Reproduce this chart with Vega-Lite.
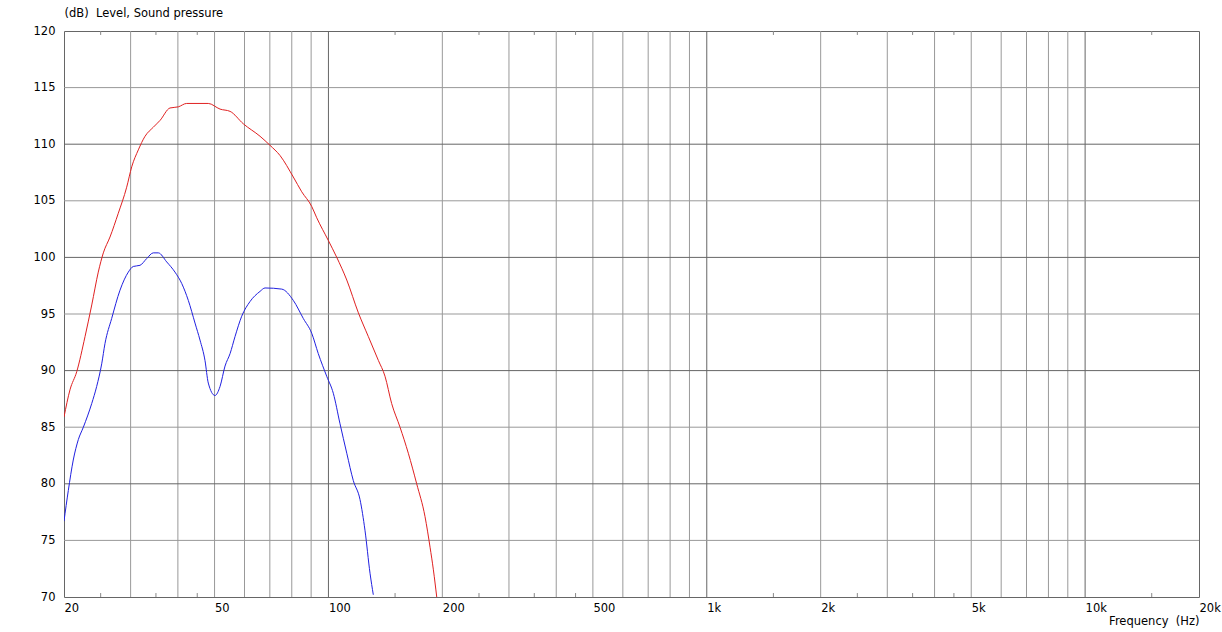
{
  "$schema": "https://vega.github.io/schema/vega-lite/v6.json",
  "width": 1135,
  "height": 566,
  "autosize": "none",
  "padding": {"left": 64, "top": 31, "right": 23, "bottom": 35},
  "background": "#ffffff",
  "config": {
    "view": {"stroke": "#666666", "strokeWidth": 1},
    "font": "DejaVu Sans",
    "axis": {"labelFont": "DejaVu Sans", "labelFontSize": 11.5, "labelColor": "#000000", "titleFont": "DejaVu Sans", "titleFontSize": 11.5, "titleFontWeight": "normal", "titleColor": "#000000"}
  },
  "datasets": {
    "vminor": [{"f":30},{"f":40},{"f":60},{"f":70},{"f":80},{"f":90},{"f":50},{"f":200},{"f":300},{"f":400},{"f":500},{"f":600},{"f":700},{"f":800},{"f":900},{"f":2000},{"f":3000},{"f":4000},{"f":5000},{"f":6000},{"f":7000},{"f":8000},{"f":9000}],
    "vmajor": [{"f":100},{"f":1000},{"f":10000}],
    "hminor": [{"db":75},{"db":85},{"db":95},{"db":105},{"db":115}],
    "hmajor": [{"db":80},{"db":90},{"db":100},{"db":110}],
    "ticks": [{"f":25},{"f":35},{"f":45},{"f":150},{"f":250},{"f":350},{"f":450},{"f":1500},{"f":2500},{"f":3500},{"f":4500},{"f":15000}],
    "curves": [
      {"series":"A","f":20.0,"db":85.9},
      {"series":"A","f":20.74,"db":88.3},
      {"series":"A","f":21.61,"db":89.9},
      {"series":"A","f":22.73,"db":93.0},
      {"series":"A","f":23.68,"db":95.8},
      {"series":"A","f":24.64,"db":98.7},
      {"series":"A","f":25.41,"db":100.4},
      {"series":"A","f":26.46,"db":101.8},
      {"series":"A","f":27.83,"db":103.9},
      {"series":"A","f":29.29,"db":106.2},
      {"series":"A","f":30.2,"db":108.0},
      {"series":"A","f":31.44,"db":109.5},
      {"series":"A","f":32.75,"db":110.7},
      {"series":"A","f":34.44,"db":111.5},
      {"series":"A","f":35.88,"db":112.1},
      {"series":"A","f":38.12,"db":113.2},
      {"series":"A","f":40.1,"db":113.3},
      {"series":"A","f":42.2,"db":113.6},
      {"series":"A","f":48.13,"db":113.6},
      {"series":"A","f":51.7,"db":113.1},
      {"series":"A","f":54.95,"db":112.9},
      {"series":"A","f":59.57,"db":111.8},
      {"series":"A","f":65.95,"db":110.7},
      {"series":"A","f":70.08,"db":109.9},
      {"series":"A","f":74.48,"db":109.0},
      {"series":"A","f":80.75,"db":107.1},
      {"series":"A","f":84.98,"db":105.8},
      {"series":"A","f":90.32,"db":104.5},
      {"series":"A","f":93.12,"db":103.5},
      {"series":"A","f":99.92,"db":101.5},
      {"series":"A","f":105.2,"db":100.0},
      {"series":"A","f":111.8,"db":98.0},
      {"series":"A","f":120.0,"db":95.1},
      {"series":"A","f":127.5,"db":93.0},
      {"series":"A","f":135.5,"db":90.9},
      {"series":"A","f":141.1,"db":89.5},
      {"series":"A","f":146.9,"db":87.1},
      {"series":"A","f":154.6,"db":85.0},
      {"series":"A","f":162.6,"db":82.7},
      {"series":"A","f":171.1,"db":80.0},
      {"series":"A","f":180.0,"db":77.1},
      {"series":"A","f":185.6,"db":74.4},
      {"series":"A","f":189.4,"db":72.4},
      {"series":"A","f":193.3,"db":70.0},
      {"series":"B","f":20.0,"db":76.7},
      {"series":"B","f":20.53,"db":79.4},
      {"series":"B","f":21.16,"db":82.1},
      {"series":"B","f":21.82,"db":83.9},
      {"series":"B","f":22.5,"db":85.0},
      {"series":"B","f":23.68,"db":87.1},
      {"series":"B","f":24.4,"db":88.6},
      {"series":"B","f":25.16,"db":90.6},
      {"series":"B","f":25.67,"db":92.4},
      {"series":"B","f":26.73,"db":94.6},
      {"series":"B","f":28.12,"db":97.1},
      {"series":"B","f":29.58,"db":98.7},
      {"series":"B","f":30.49,"db":99.2},
      {"series":"B","f":31.76,"db":99.3},
      {"series":"B","f":33.09,"db":99.9},
      {"series":"B","f":34.44,"db":100.4},
      {"series":"B","f":35.51,"db":100.4},
      {"series":"B","f":37.37,"db":99.6},
      {"series":"B","f":39.3,"db":98.7},
      {"series":"B","f":40.94,"db":97.7},
      {"series":"B","f":42.62,"db":96.2},
      {"series":"B","f":44.39,"db":94.2},
      {"series":"B","f":45.76,"db":92.7},
      {"series":"B","f":47.17,"db":90.9},
      {"series":"B","f":48.13,"db":88.9},
      {"series":"B","f":50.13,"db":87.8},
      {"series":"B","f":51.7,"db":88.6},
      {"series":"B","f":53.29,"db":90.4},
      {"series":"B","f":54.95,"db":91.5},
      {"series":"B","f":56.63,"db":93.0},
      {"series":"B","f":58.98,"db":94.8},
      {"series":"B","f":62.04,"db":96.1},
      {"series":"B","f":65.95,"db":97.0},
      {"series":"B","f":67.99,"db":97.3},
      {"series":"B","f":75.24,"db":97.2},
      {"series":"B","f":80.75,"db":96.2},
      {"series":"B","f":85.83,"db":94.6},
      {"series":"B","f":90.32,"db":93.3},
      {"series":"B","f":94.0,"db":91.5},
      {"series":"B","f":98.95,"db":89.5},
      {"series":"B","f":103.0,"db":88.0},
      {"series":"B","f":107.3,"db":85.3},
      {"series":"B","f":111.8,"db":82.7},
      {"series":"B","f":116.3,"db":80.3},
      {"series":"B","f":121.2,"db":78.6},
      {"series":"B","f":124.9,"db":75.9},
      {"series":"B","f":128.8,"db":72.1},
      {"series":"B","f":131.4,"db":70.2}
    ]
  },
  "layer": [
    {
      "data": {"name": "curves"},
      "mark": {"type": "line", "strokeWidth": 1, "interpolate": "monotone", "clip": true, "opacity": 0},
      "encoding": {
        "x": {
          "field": "f", "type": "quantitative",
          "scale": {"type": "log", "domain": [20, 20000], "nice": false},
          "axis": {
            "values": [20, 50, 100, 200, 500, 1000, 2000, 5000, 10000, 20000],
            "labelExpr": "datum.value >= 1000 ? (datum.value / 1000) + 'k' : datum.value",
            "labelAlign": "left", "labelBaseline": "top", "labelPadding": 5,
            "labelFlush": false, "labelOverlap": false, "labelBound": false,
            "ticks": false, "domain": false, "grid": false,
            "title": "Frequency\u00a0 (Hz)", "titleAlign": "right", "titleAnchor": "end",
            "titleX": 1135, "titleY": 24, "titleBaseline": "middle"
          }
        },
        "y": {
          "field": "db", "type": "quantitative",
          "scale": {"domain": [70, 120], "nice": false, "zero": false},
          "axis": {
            "values": [70, 75, 80, 85, 90, 95, 100, 105, 110, 115, 120],
            "labelAlign": "right", "labelBaseline": "middle", "labelPadding": 9,
            "labelFlush": false, "labelOverlap": false, "labelBound": false,
            "ticks": false, "domain": false, "grid": false,
            "title": "(dB)\u00a0 Level, Sound pressure", "titleAngle": 0, "titleAlign": "left",
            "titleX": 0, "titleY": -18, "titleBaseline": "middle", "titleAnchor": "start"
          }
        },
        "detail": {"field": "series", "type": "nominal"}
      }
    },
    {
      "data": {"name": "vminor"},
      "mark": {"type": "rule", "color": "#999999", "strokeWidth": 1},
      "encoding": {
        "x": {"field": "f", "type": "quantitative", "scale": {"type": "log", "domain": [20, 20000], "nice": false}}
      }
    },
    {
      "data": {"name": "vmajor"},
      "mark": {"type": "rule", "color": "#666666", "strokeWidth": 1},
      "encoding": {
        "x": {"field": "f", "type": "quantitative", "scale": {"type": "log", "domain": [20, 20000], "nice": false}}
      }
    },
    {
      "data": {"name": "hminor"},
      "mark": {"type": "rule", "color": "#999999", "strokeWidth": 1},
      "encoding": {
        "y": {"field": "db", "type": "quantitative", "scale": {"domain": [70, 120], "nice": false, "zero": false}}
      }
    },
    {
      "data": {"name": "hmajor"},
      "mark": {"type": "rule", "color": "#666666", "strokeWidth": 1},
      "encoding": {
        "y": {"field": "db", "type": "quantitative", "scale": {"domain": [70, 120], "nice": false, "zero": false}}
      }
    },
    {
      "data": {"name": "ticks"},
      "mark": {"type": "rule", "color": "#888888", "strokeWidth": 1},
      "encoding": {
        "x": {"field": "f", "type": "quantitative", "scale": {"type": "log", "domain": [20, 20000], "nice": false}},
        "y": {"datum": 70, "type": "quantitative", "scale": {"domain": [70, 120], "nice": false, "zero": false}},
        "y2": {"datum": 70.35}
      }
    },
    {
      "data": {"name": "ticks"},
      "mark": {"type": "rule", "color": "#888888", "strokeWidth": 1},
      "encoding": {
        "x": {"field": "f", "type": "quantitative", "scale": {"type": "log", "domain": [20, 20000], "nice": false}},
        "y": {"datum": 120, "type": "quantitative", "scale": {"domain": [70, 120], "nice": false, "zero": false}},
        "y2": {"datum": 119.65}
      }
    },
    {
      "data": {"name": "curves"},
      "mark": {"type": "line", "strokeWidth": 1, "interpolate": "monotone", "clip": true},
      "encoding": {
        "x": {"field": "f", "type": "quantitative", "scale": {"type": "log", "domain": [20, 20000], "nice": false}},
        "y": {"field": "db", "type": "quantitative", "scale": {"domain": [70, 120], "nice": false, "zero": false}},
        "color": {
          "field": "series", "type": "nominal",
          "scale": {"domain": ["A", "B"], "range": ["#e02020", "#2020e0"]},
          "legend": null
        }
      }
    }
  ]
}
